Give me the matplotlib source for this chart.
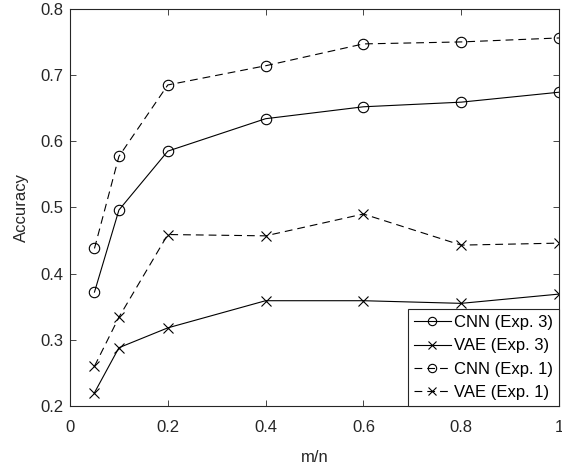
import numpy as np
import matplotlib
matplotlib.use('Agg')
import matplotlib.pyplot as plt

ratio = [0.05, 0.1, 0.2, 0.4, 0.6, 0.8, 1.0]
cnn_exp3 = [0.372, 0.496, 0.585, 0.634, 0.652, 0.659, 0.674]
vae_exp3 = [0.220, 0.288, 0.318, 0.359, 0.359, 0.355, 0.369]
cnn_exp1 = [0.438, 0.577, 0.685, 0.714, 0.747, 0.750, 0.756]
vae_exp1 = [0.260, 0.334, 0.459, 0.457, 0.490, 0.443, 0.446]

plt.rcParams['font.family'] = ['Liberation Sans', 'DejaVu Sans']
plt.rcParams['font.size'] = 12

fig = plt.figure(figsize=(5.62, 4.65), dpi=100)
ax = fig.add_axes([0.1246, 0.127, 0.870, 0.854])

kw = dict(color='black', lw=0.8, markersize=7.5, markerfacecolor='none',
          markeredgewidth=0.8)
ax.plot(ratio, cnn_exp3, '-o', label='CNN (Exp. 3)', **kw)
ax.plot(ratio, vae_exp3, '-x', label='VAE (Exp. 3)', **kw)
ax.plot(ratio, cnn_exp1, '--o', label='CNN (Exp. 1)', dashes=(7, 4.5), **kw)
ax.plot(ratio, vae_exp1, '--x', label='VAE (Exp. 1)', dashes=(7, 4.5), **kw)

ax.set_xlim(0, 1)
ax.set_ylim(0.2, 0.8)
ax.set_xticks([0, 0.2, 0.4, 0.6, 0.8, 1])
ax.set_xticklabels(['0', '0.2', '0.4', '0.6', '0.8', '1'])
ax.set_yticks(np.arange(0.2, 0.81, 0.1))
ax.set_yticklabels(['0.2', '0.3', '0.4', '0.5', '0.6', '0.7', '0.8'])
ax.tick_params(direction='in', top=True, right=True, length=4, width=0.6,
               colors='#262626', labelcolor='#262626', labelsize=12)
ax.tick_params(axis='x', pad=10)
ax.tick_params(axis='y', pad=5)
for s in ax.spines.values():
    s.set_color('#262626')
    s.set_linewidth(0.8)
ax.set_xlabel('m/n', color='#262626', fontsize=12, labelpad=11)
ax.set_ylabel('Accuracy', color='#262626', fontsize=12, labelpad=8)

leg = ax.legend(loc='lower right', borderaxespad=0, fontsize=12,
                fancybox=False, framealpha=1, handlelength=2.2,
                handletextpad=0.2, borderpad=0.35, labelspacing=0.5,
                markerscale=0.8)
leg.get_frame().set_edgecolor('#262626')
leg.get_frame().set_linewidth(0.8)

fig.savefig('out.png', dpi=100)
